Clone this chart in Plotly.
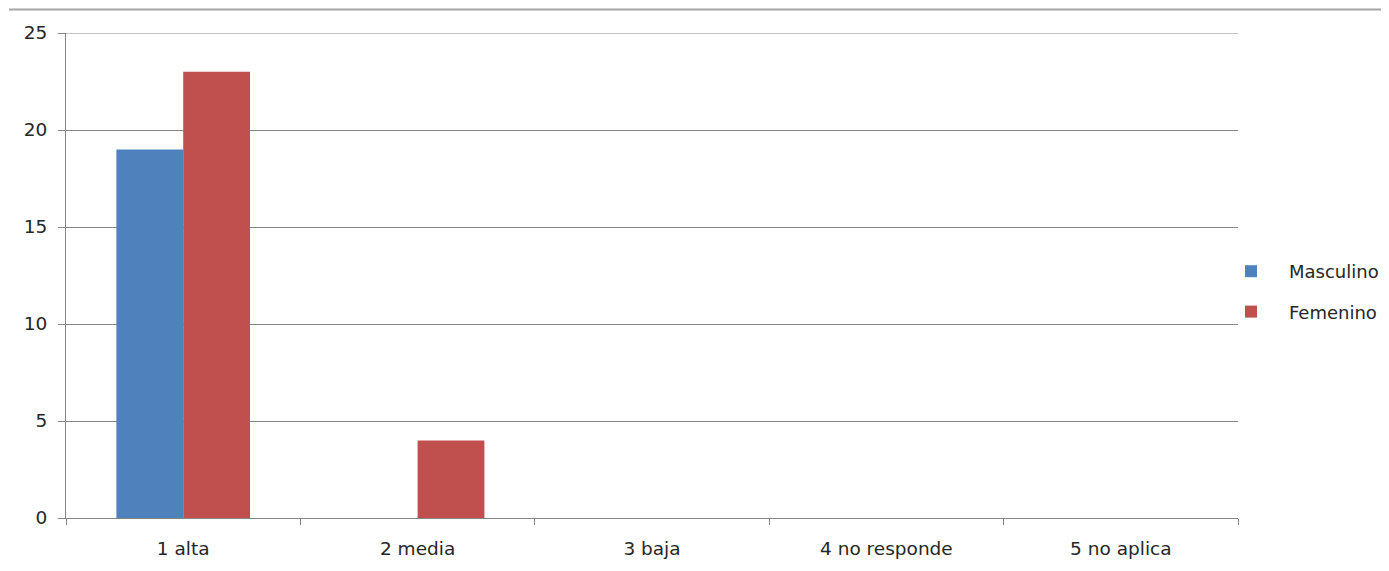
import plotly.graph_objects as go

categories = ["1 alta", "2 media", "3 baja", "4 no responde", "5 no aplica"]
masculino = [19, 0, 0, 0, 0]
femenino = [23, 4, 0, 0, 0]
y_ticks = [0, 5, 10, 15, 20, 25]

# page body has an 8px margin, so the figure starts at (8, 8) of the viewport
OFF = 8
W, H = 1389 - 2 * OFF, 571 - 2 * OFF
L, R, T, B = 66, 1238, 33, 518  # plot area in viewport pixels

fig = go.Figure()
fig.add_trace(go.Bar(x=categories, y=masculino, name="Masculino",
                     marker=dict(color="#4F81BD", line=dict(width=0)),
                     legendgroup="m"))
fig.add_trace(go.Bar(x=categories, y=femenino, name="Femenino",
                     marker=dict(color="#C0504D", line=dict(width=0)),
                     legendgroup="f"))

font = dict(family="DejaVu Sans", size=18.5, color="#262626")


def px(x):
    return (x - L) / (R - L)


def py(y):
    return (B - y) / (B - T)


shapes = [
    # spreadsheet cell border visible above the chart
    dict(type="line", xref="paper", yref="paper",
         x0=px(9), x1=px(1395), y0=py(9.5), y1=py(9.5),
         line=dict(color="#A6A6A6", width=2), layer="above"),
    # top gridline (plotly drops the gridline at the range edge)
    dict(type="line", xref="paper", yref="y",
         x0=0, x1=1, y0=y_ticks[-1], y1=y_ticks[-1],
         line=dict(color="#868686", width=1), layer="below"),
]

fig.update_layout(
    width=W, height=H,
    margin=dict(l=L - OFF, r=W - (R - OFF), t=T - OFF, b=H - (B - OFF),
                pad=0, autoexpand=False),
    paper_bgcolor="white", plot_bgcolor="white",
    barmode="group", bargap=0.43, bargroupgap=0,
    font=font,
    showlegend=True,
    legend=dict(x=px(1213), xref="paper", xanchor="left",
                y=py(291.5), yanchor="middle",
                font=dict(family="DejaVu Sans", size=18, color="#262626"),
                tracegroupgap=14, traceorder="grouped",
                itemwidth=66, bgcolor="rgba(0,0,0,0)"),
    xaxis=dict(type="category", range=[-0.5, 4.5], showgrid=False,
               showline=True, linecolor="#868686", linewidth=1,
               ticks="outside", tickson="boundaries", ticklen=6,
               tickcolor="#868686", tickwidth=1,
               tickfont=font, fixedrange=True, ticklabelstandoff=14),
    yaxis=dict(range=[0, 25], tickvals=y_ticks, showgrid=True,
               gridcolor="#868686", gridwidth=1,
               showline=True, linecolor="#868686", linewidth=1,
               ticks="outside", ticklen=7, tickcolor="#868686",
               tickwidth=1, tickfont=font, zeroline=False,
               ticklabelstandoff=7),
    shapes=shapes,
)

fig.write_html("out.html")
